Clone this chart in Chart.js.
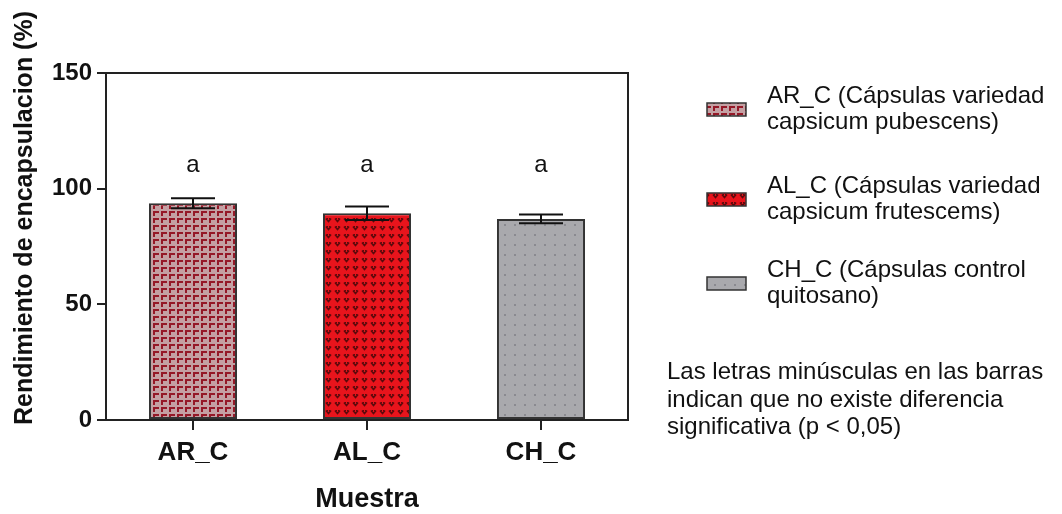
<!DOCTYPE html>
<html>
<head>
<meta charset="utf-8">
<script src="https://cdn.jsdelivr.net/npm/chart.js@4.4.1/dist/chart.umd.min.js"></script>
<style>
  html, body { margin: 0; padding: 0; background: #ffffff; }
  #wrap { width: 1062px; height: 514px; position: relative; }
</style>
</head>
<body>
<div id="wrap"><canvas id="chart" width="1062" height="514"></canvas></div>
<script>
// Encapsulation yield per sample (mean and error) with significance letters
const categories = ['AR_C', 'AL_C', 'CH_C'];
const yieldMeans = [93.7, 89.4, 86.9];
const yieldErrors = [2.2, 2.9, 1.9];
const groupLetters = ['a', 'a', 'a'];
const yTicks = [0, 50, 100, 150];
const legendLabels = [
  ['AR_C (Cápsulas variedad', 'capsicum pubescens)'],
  ['AL_C (Cápsulas variedad', 'capsicum frutescems)'],
  ['CH_C (Cápsulas control', 'quitosano)']
];
const noteLines = [
  'Las letras minúsculas en las barras',
  'indican que no existe diferencia',
  'significativa (p < 0,05)'
];
const yTitle = 'Rendimiento de encapsulacion (%)';
const xTitle = 'Muestra';

const FONT = "'Liberation Sans', Arial, Helvetica, sans-serif";
const INK = '#111111';
const AXIS = '#222222';

// ---- fill patterns ----
function makeTile(w, h, paint) {
  const c = document.createElement('canvas');
  c.width = w; c.height = h;
  const g = c.getContext('2d');
  paint(g);
  return document.getElementById('chart').getContext('2d').createPattern(c, 'repeat');
}
const patternAR = makeTile(8, 7, g => {
  g.fillStyle = '#c4a0a3'; g.fillRect(0, 0, 8, 7);
  g.fillStyle = '#951827';
  g.fillRect(1, 1, 2, 5);
  g.fillRect(1, 1, 6, 2);
});
const patternAL = makeTile(9, 8, g => {
  g.fillStyle = '#e8141c'; g.fillRect(0, 0, 9, 8);
  g.strokeStyle = '#5a0a0c'; g.lineWidth = 1.6;
  g.beginPath(); g.moveTo(2, 2.5); g.lineTo(4.5, 5.5); g.lineTo(7, 2.5); g.stroke();
  g.fillStyle = '#5a0a0c';
  g.fillRect(3, 2, 1, 1); g.fillRect(5, 2, 1, 1);
});
const patternCH = makeTile(10, 10, g => {
  g.fillStyle = '#a9a9ad'; g.fillRect(0, 0, 10, 10);
  g.fillStyle = '#8a8a90';
  g.fillRect(4, 4, 2, 2);
});
const barFills = [patternAR, patternAL, patternCH];

// ---- plugins ----
const framePlugin = {
  id: 'frame',
  afterDraw(chart) {
    const { ctx, chartArea: a } = chart;
    ctx.save();
    ctx.strokeStyle = AXIS; ctx.lineWidth = 2;
    ctx.beginPath();
    ctx.moveTo(a.left, a.top); ctx.lineTo(a.right, a.top); ctx.lineTo(a.right, a.bottom);
    ctx.stroke();
    ctx.restore();
  }
};

const errorBarPlugin = {
  id: 'errorBars',
  afterDatasetsDraw(chart) {
    const { ctx } = chart;
    const y = chart.scales.y;
    const meta = chart.getDatasetMeta(0);
    ctx.save();
    ctx.strokeStyle = INK; ctx.lineWidth = 2;
    meta.data.forEach((bar, i) => {
      const x = bar.x;
      const hi = y.getPixelForValue(yieldMeans[i] + yieldErrors[i]);
      const lo = y.getPixelForValue(yieldMeans[i] - yieldErrors[i]);
      const half = 22;
      ctx.beginPath();
      ctx.moveTo(x, hi); ctx.lineTo(x, lo);
      ctx.moveTo(x - half, hi); ctx.lineTo(x + half, hi);
      ctx.moveTo(x - half, lo); ctx.lineTo(x + half, lo);
      ctx.stroke();
    });
    // significance letters at a common level above the bars
    ctx.fillStyle = INK;
    ctx.font = '24px ' + FONT;
    ctx.textAlign = 'center'; ctx.textBaseline = 'middle';
    const letterY = y.getPixelForValue(110);
    meta.data.forEach((bar, i) => ctx.fillText(groupLetters[i], bar.x, letterY));
    ctx.restore();
  }
};

const textPlugin = {
  id: 'sideText',
  afterDraw(chart) {
    const { ctx } = chart;
    ctx.save();
    ctx.fillStyle = INK;
    // y axis title
    ctx.save();
    ctx.translate(25, 218);
    ctx.rotate(-Math.PI / 2);
    ctx.font = 'bold 25px ' + FONT;
    ctx.textAlign = 'center'; ctx.textBaseline = 'middle';
    ctx.fillText(yTitle, 0, 0);
    ctx.restore();
    // x axis title
    ctx.font = 'bold 27px ' + FONT;
    ctx.textAlign = 'center'; ctx.textBaseline = 'alphabetic';
    const a = chart.chartArea;
    ctx.fillText(xTitle, (a.left + a.right) / 2, 507);
    // legend
    const entryBase = [103, 193, 277];
    const lineGap = 26;
    ctx.font = '24px ' + FONT;
    ctx.textAlign = 'left';
    legendLabels.forEach((lines, i) => {
      const b = entryBase[i];
      const cy = b + lineGap / 2 - 7;
      ctx.fillStyle = barFills[i];
      ctx.fillRect(707, cy - 6, 39, 13);
      ctx.strokeStyle = '#333333'; ctx.lineWidth = 1.5;
      ctx.strokeRect(707, cy - 6, 39, 13);
      ctx.fillStyle = INK;
      lines.forEach((t, k) => ctx.fillText(t, 767, b + k * lineGap));
    });
    // note
    noteLines.forEach((t, k) => ctx.fillText(t, 667, 379 + k * 27.5));
    ctx.restore();
  }
};

new Chart(document.getElementById('chart'), {
  type: 'bar',
  data: {
    labels: categories,
    datasets: [{
      data: yieldMeans,
      backgroundColor: barFills,
      borderColor: '#333333',
      borderWidth: 2,
      borderSkipped: false,
      barPercentage: 0.506,
      categoryPercentage: 1.0
    }]
  },
  options: {
    responsive: false,
    devicePixelRatio: 1,
    animation: false,
    layout: { padding: { top: 73, right: 434, left: 0, bottom: 0 } },
    plugins: { legend: { display: false }, tooltip: { enabled: false } },
    scales: {
      x: {
        offset: true,
        grid: { offset: false, drawOnChartArea: false, drawTicks: true, tickLength: 10, color: AXIS, lineWidth: 2 },
        border: { display: true, color: AXIS, width: 2 },
        ticks: { color: INK, font: { family: FONT, size: 26, weight: 'bold' }, padding: 7 },
        afterFit(scale) { scale.height = 94; }
      },
      y: {
        min: 0, max: 150,
        afterBuildTicks(scale) { scale.ticks = yTicks.map(v => ({ value: v })); },
        grid: { drawOnChartArea: false, drawTicks: true, tickLength: 9, color: AXIS, lineWidth: 2 },
        border: { display: true, color: AXIS, width: 2 },
        ticks: { color: INK, font: { family: FONT, size: 24, weight: 'bold' }, padding: 5 },
        afterFit(scale) { scale.width = 106; }
      }
    }
  },
  plugins: [framePlugin, errorBarPlugin, textPlugin]
});
</script>
</body>
</html>
